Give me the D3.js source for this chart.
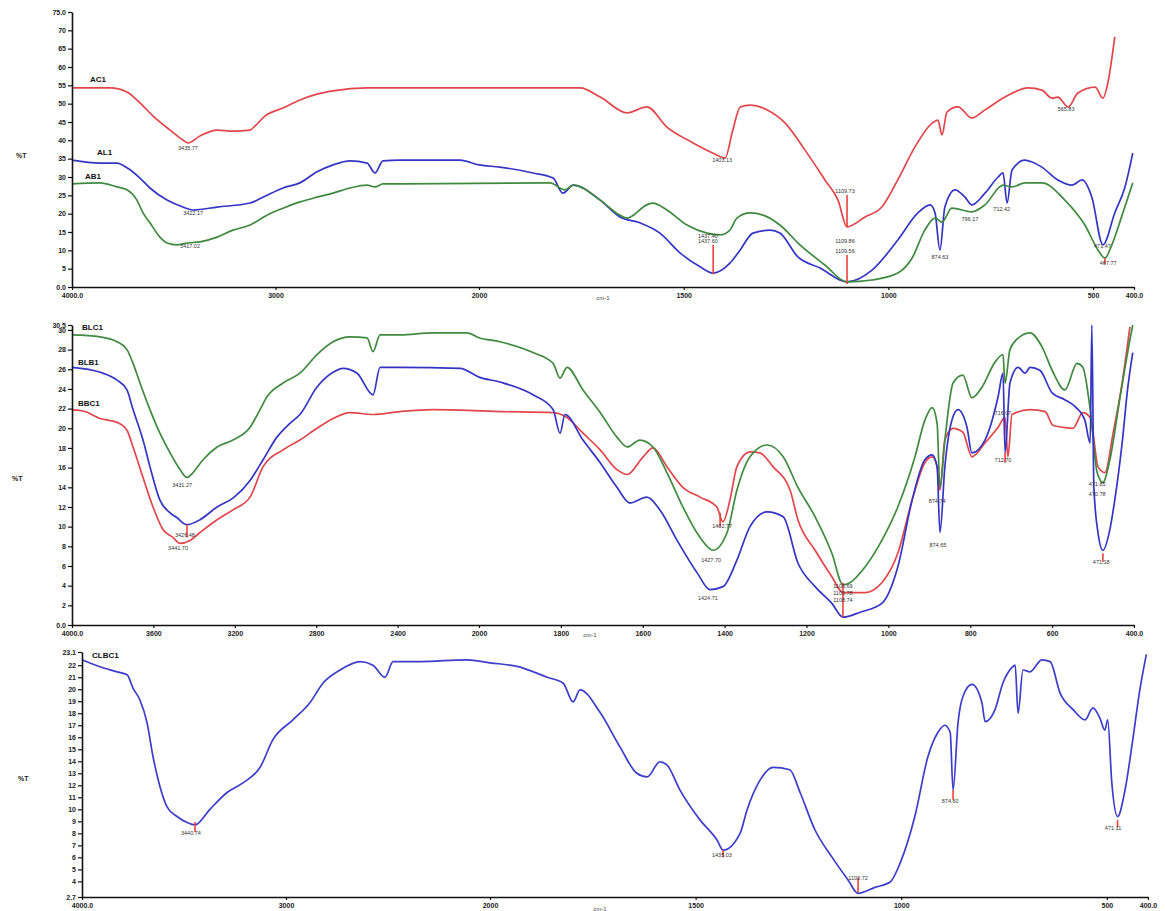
<!DOCTYPE html>
<html>
<head>
<meta charset="utf-8">
<script src="https://cdn.jsdelivr.net/npm/d3@7"></script>
<style>
  body { margin: 0; background: #fff; }
  svg { display: block; font-family: "Liberation Sans", Arial, sans-serif; }
  .tick text { fill: #222; }
</style>
</head>
<body>
<svg id="chart" width="1165" height="911"></svg>
<script>
// ---- data: [wavenumber cm-1, %T] ----
const AC1 = [[4000,54.3],[3813,54.3],[3730,53.2],[3666,50.2],[3592,46.1],[3518,42.8],[3455,40.1],[3430,39.3],[3371,41.2],[3287,42.8],[3209,42.5],[3125,42.8],[3101,43.9],[3052,46.6],[2963,48.8],[2880,51.0],[2796,52.6],[2717,53.5],[2550,54.3],[2388,54.3],[2000,54.3],[1753,54.3],[1704,51.8],[1638,47.5],[1590,49.1],[1541,43.6],[1477,39.3],[1428,36.5],[1399,35.2],[1380,42.8],[1362,49.1],[1338,49.6],[1296,48.3],[1252,44.7],[1204,37.4],[1155,29.2],[1123,23.7],[1101,16.4],[1057,19.1],[1016,21.8],[977,29.2],[935,38.2],[893,44.7],[879,45.5],[869,41.5],[857,47.7],[830,49.1],[796,46.1],[764,48.3],[715,51.8],[659,54.3],[625,53.7],[600,51.5],[586,51.8],[561,49.1],[537,52.9],[495,54.5],[476,51.5],[464,55.6],[447,68.2]];
const AL1 = [[4000,34.6],[3862,33.8],[3779,33.8],[3730,32.5],[3666,29.7],[3617,27.0],[3533,23.7],[3455,21.8],[3405,21.0],[3287,21.8],[3125,22.9],[3061,24.5],[2963,27.0],[2880,28.4],[2796,31.4],[2717,33.3],[2634,34.4],[2550,33.8],[2511,31.1],[2472,34.4],[2388,34.6],[2093,34.6],[2000,33.3],[1949,32.7],[1868,31.1],[1819,29.7],[1795,25.6],[1770,27.8],[1704,23.7],[1656,19.1],[1607,17.5],[1558,14.7],[1509,9.3],[1460,5.5],[1428,3.8],[1387,6.5],[1362,10.1],[1331,14.7],[1289,15.5],[1265,14.7],[1221,8.2],[1167,5.2],[1101,1.4],[1040,4.6],[977,12.8],[928,20.2],[898,22.4],[886,20.2],[874,10.1],[862,21.8],[837,26.5],[813,24.5],[796,22.4],[764,25.6],[732,30.0],[720,31.1],[710,22.9],[698,31.9],[666,34.6],[649,34.1],[625,32.7],[586,29.2],[551,27.8],[527,29.2],[503,24.5],[476,11.5],[447,20.2],[422,27.3],[403,36.5]];
const AB1 = [[4000,28.1],[3862,28.4],[3779,27.3],[3730,26.5],[3681,23.7],[3651,20.2],[3617,17.5],[3568,13.6],[3533,12.0],[3484,11.5],[3435,12.0],[3371,12.3],[3287,13.6],[3209,15.5],[3125,16.9],[3042,19.6],[2963,21.5],[2880,23.2],[2796,24.5],[2717,25.6],[2634,27.0],[2550,27.8],[2511,27.3],[2472,28.1],[2388,28.1],[1827,28.4],[1790,26.5],[1770,27.8],[1704,23.7],[1656,19.6],[1638,18.8],[1590,22.4],[1575,22.9],[1541,21.0],[1492,16.9],[1443,14.7],[1411,14.2],[1387,15.5],[1370,18.8],[1338,20.2],[1306,19.6],[1265,16.9],[1216,11.5],[1155,6.0],[1101,1.4],[1040,1.9],[977,3.8],[942,7.9],[911,15.5],[886,18.8],[869,17.7],[845,21.5],[796,20.5],[764,22.4],[720,27.8],[698,27.3],[666,28.4],[625,28.4],[569,23.7],[520,16.9],[488,10.1],[471,7.9],[454,11.5],[429,19.6],[403,28.4]];

const BLC1 = [[4000,29.5],[3862,29.3],[3779,28.8],[3730,28.0],[3700,26.6],[3666,24.6],[3617,21.9],[3568,19.5],[3518,17.5],[3469,15.8],[3435,15.0],[3405,15.5],[3356,16.8],[3287,18.1],[3209,18.8],[3125,20.1],[3076,21.9],[3042,23.2],[2963,24.6],[2880,25.6],[2796,27.5],[2717,28.8],[2634,29.3],[2550,29.2],[2521,27.8],[2486,29.5],[2388,29.5],[2226,29.7],[2059,29.7],[2000,29.2],[1949,28.8],[1868,27.7],[1819,26.6],[1802,25.1],[1785,26.2],[1746,23.9],[1704,21.6],[1663,19.1],[1638,18.1],[1607,18.8],[1575,18.1],[1541,15.5],[1502,12.0],[1460,8.9],[1428,7.6],[1394,9.4],[1370,13.7],[1338,17.1],[1296,18.3],[1257,17.1],[1221,14.0],[1179,11.0],[1138,7.3],[1111,4.1],[1094,4.3],[1057,5.9],[1016,8.6],[977,12.0],[935,17.1],[911,20.8],[893,22.1],[881,20.5],[874,14.0],[862,18.8],[842,24.6],[818,25.4],[796,23.1],[771,24.2],[740,26.7],[720,27.5],[715,24.6],[703,28.0],[679,29.3],[654,29.7],[625,28.3],[600,25.9],[569,23.9],[539,26.6],[525,26.2],[507,21.9],[490,15.5],[476,14.5],[459,16.8],[435,22.9],[410,29.0],[403,30.5]];
const BLB1 = [[4000,26.2],[3862,25.7],[3779,24.9],[3730,23.9],[3700,21.9],[3651,18.8],[3617,16.1],[3568,12.7],[3518,11.4],[3484,10.9],[3435,10.2],[3371,10.7],[3287,12.0],[3209,12.9],[3125,14.7],[3061,16.8],[2993,19.1],[2929,20.5],[2880,21.4],[2796,24.2],[2717,25.7],[2668,26.1],[2599,25.6],[2521,23.4],[2486,26.2],[2388,26.2],[2093,26.1],[2000,25.2],[1949,24.7],[1868,23.4],[1819,21.9],[1802,19.5],[1790,21.4],[1746,18.8],[1704,16.5],[1663,14.0],[1631,12.4],[1590,13.0],[1558,11.7],[1516,8.6],[1467,5.3],[1436,3.6],[1404,3.9],[1370,6.6],[1338,10.0],[1296,11.5],[1257,11.0],[1221,6.3],[1179,3.9],[1138,2.2],[1111,0.8],[1069,1.3],[1016,2.2],[977,5.9],[942,12.7],[911,16.8],[893,17.3],[881,16.1],[874,9.4],[862,16.1],[845,20.8],[830,21.9],[808,20.1],[796,17.5],[764,18.8],[732,23.2],[720,25.6],[715,17.5],[703,24.6],[683,26.2],[666,25.6],[654,26.2],[630,25.9],[600,23.6],[569,22.9],[544,22.2],[520,20.8],[507,18.5],[503,30.5],[498,14.0],[488,9.4],[476,7.6],[459,9.7],[447,12.7],[429,18.5],[415,24.2],[403,27.7]];
const BBC1 = [[4000,21.9],[3936,21.7],[3862,21.0],[3779,20.6],[3730,19.8],[3700,18.1],[3651,15.0],[3602,12.0],[3553,9.7],[3504,8.9],[3469,8.3],[3420,8.6],[3371,9.4],[3287,10.7],[3209,11.7],[3125,13.0],[3061,16.1],[2963,17.8],[2880,18.8],[2796,20.0],[2717,21.0],[2634,21.6],[2521,21.4],[2388,21.7],[2226,21.9],[1949,21.7],[1819,21.6],[1785,21.1],[1746,19.5],[1704,17.8],[1663,15.8],[1638,15.3],[1599,17.1],[1575,18.0],[1541,16.1],[1502,14.0],[1460,13.0],[1419,12.0],[1404,10.5],[1387,12.7],[1370,16.1],[1338,17.6],[1314,17.5],[1282,16.1],[1240,13.7],[1221,10.7],[1179,7.6],[1138,4.9],[1111,3.3],[1057,3.3],[1016,4.3],[977,7.3],[942,12.7],[911,16.5],[893,17.1],[881,16.1],[874,13.7],[862,18.8],[842,20.0],[818,19.6],[796,17.1],[764,18.5],[732,20.1],[715,21.1],[708,17.1],[698,21.4],[654,21.9],[617,21.7],[598,20.3],[573,20.1],[549,20.0],[525,21.6],[507,21.1],[500,19.5],[488,16.1],[471,15.5],[451,19.5],[429,24.6],[410,30.3]];

const CLBC1 = [[4000,22.45],[3912,21.87],[3828,21.45],[3779,21.2],[3750,20.1],[3716,19.1],[3681,17.2],[3652,14.4],[3618,11.9],[3583,10.2],[3534,9.4],[3485,8.9],[3446,8.7],[3373,10.0],[3289,11.4],[3211,12.2],[3127,13.5],[3064,15.8],[2966,17.45],[2882,18.9],[2819,20.5],[2735,21.6],[2637,22.3],[2574,22.0],[2515,21.0],[2475,22.3],[2343,22.3],[2113,22.45],[2000,22.2],[1934,21.9],[1861,21.0],[1822,20.5],[1798,18.95],[1781,19.95],[1733,18.1],[1684,15.2],[1643,13.0],[1618,12.7],[1587,13.95],[1570,13.7],[1538,11.6],[1489,9.1],[1448,7.45],[1433,6.6],[1392,8.0],[1375,9.95],[1343,12.45],[1312,13.5],[1271,13.3],[1246,11.4],[1210,8.3],[1168,6.0],[1129,4.1],[1105,3.0],[1064,3.5],[1027,3.95],[1003,5.5],[967,9.4],[935,14.4],[911,16.4],[894,17.0],[881,16.4],[874,11.6],[862,17.2],[850,19.4],[828,20.4],[804,18.9],[796,17.3],[772,18.3],[753,20.5],[731,21.8],[723,22.0],[716,18.0],[704,21.6],[687,21.45],[658,22.45],[638,22.3],[614,19.7],[582,18.3],[553,17.45],[534,18.45],[517,17.6],[505,16.6],[498,17.45],[488,12.2],[474,9.4],[457,11.4],[437,15.8],[421,19.7],[404,22.9]];

// peak labels: [wavenumber, %T, text]
const P1_PEAKS = [[3430,37.4,'3435.77'],[3405,19.6,'3422.17'],[3420,10.6,'3417.02'],[1406,34.1,'1403.13'],[1441,13.4,'1437.40'],[1441,12.0,'1437.60'],[1106,25.6,'1109.73'],[1106,12.0,'1109.86'],[1106,9.2,'1109.56'],[874,7.6,'874.63'],[801,18.0,'796.17'],[723,20.7,'712.42'],[566,47.9,'565.83'],[477,10.6,'471.47'],[463,6.0,'467.77']];
const P2_PEAKS = [[3459,14.0,'3431.27'],[3445,8.9,'3426.48'],[3479,7.6,'3441.70'],[1406,9.9,'1402.77'],[1433,6.4,'1427.70'],[1441,2.5,'1424.71'],[1111,3.8,'1106.69'],[1111,3.05,'1109.78'],[1111,2.3,'1108.74'],[881,12.4,'874.74'],[879,7.9,'874.65'],[720,16.6,'712.70'],[720,21.3,'716.07'],[490,14.1,'471.85'],[490,13.1,'470.78'],[480,6.2,'471.18']];
const P3_PEAKS = [[3466,7.9,'3440.74'],[1436,6.0,'1435.03'],[1105,4.1,'1103.72'],[881,10.5,'874.60'],[485,8.3,'471.11']];

// peak marker segments: [wavenumber, %T from, %T to]
const P1_MARKS = [[1428,11.5,3.5],[1101,25.1,16.4],[1101,8.7,0.8],[471,7.9,6.3]];
const P2_MARKS = [[3435,10.2,8.9],[1411,11.4,10.0],[1111,4.3,0.8],[715,17.5,16.5],[476,7.3,6.4]];
const P3_MARKS = [[3446,8.95,8.1],[1433,6.6,6.0],[1105,4.3,3.1],[874,11.6,10.8],[474,9.1,8.5]];

// series names: [text, wavenumber, %T]
const P1_NAMES = [['AC1',3912,55.9],['AL1',3877,36.0],['AB1',3936,29.5]];
const P2_NAMES = [['BLC1',3951,30.0],['BLB1',3971,26.4],['BBC1',3971,22.3]];
const P3_NAMES = [['CLBC1',3951,22.6]];

// ticks
const X_TICKS_A = [4000,3000,2000,1500,1000,500,400];
const X_TICKS_B = [4000,3600,3200,2800,2400,2000,1800,1600,1400,1200,1000,800,600,400];
const P1_Y_TICKS = d3.range(0, 80, 5);
const P2_Y_TICKS = d3.range(0, 32, 2).concat([30.5]);
const P3_Y_TICKS = [2.7].concat(d3.range(4, 23, 1), [23.1]);

const RED = '#e0464a', BLUE = '#3535c4', GREEN = '#3f8a3f', MARK = '#e8443c';

const svg = d3.select('#chart');
const WN = [4000, 2000, 400];

const panels = [
  {xr:[72,479,1134], yd:[0,75], yr:[287,12], yTicks:P1_Y_TICKS, xTicks:X_TICKS_A,
   yFmt: d => d === 0 ? '0.0' : d === 75 ? '75.0' : d,
   series:[[AC1,RED],[AL1,BLUE],[AB1,GREEN]],
   peaks:P1_PEAKS, marks:P1_MARKS, names:P1_NAMES, ylab:[16,158], unit:[603,300]},
  {xr:[72,479,1134], yd:[0,30.5], yr:[625,325], yTicks:P2_Y_TICKS, xTicks:X_TICKS_B,
   yFmt: d => d === 0 ? '0.0' : d,
   series:[[BBC1,RED],[BLC1,GREEN],[BLB1,BLUE]],
   peaks:P2_PEAKS, marks:P2_MARKS, names:P2_NAMES, ylab:[12,481], unit:[590,637]},
  {xr:[82,490,1148], yd:[2.7,23.1], yr:[897,652], yTicks:P3_Y_TICKS, xTicks:X_TICKS_A,
   yFmt: d => d,
   series:[[CLBC1,'#3d3dca']],
   peaks:P3_PEAKS, marks:P3_MARKS, names:P3_NAMES, ylab:[18,781], unit:[600,911]}
];

panels.forEach(p => {
  const g = svg.append('g');
  const x = d3.scaleLinear().domain(WN).range(p.xr);
  const y = d3.scaleLinear().domain(p.yd).range(p.yr);

  const line = d3.line()
      .x(d => x(d[0]))
      .y(d => y(d[1]))
      .curve(d3.curveMonotoneX);

  // spectra
  p.series.forEach(([data, color]) => {
    g.append('path')
      .datum(data)
      .attr('d', line)
      .attr('fill', 'none')
      .attr('stroke', color)
      .attr('stroke-width', 1.7)
      .attr('stroke-linejoin', 'round');
  });

  // peak markers
  g.selectAll('.mark')
    .data(p.marks)
    .join('line')
      .attr('x1', d => x(d[0])).attr('x2', d => x(d[0]))
      .attr('y1', d => y(d[1])).attr('y2', d => y(d[2]))
      .attr('stroke', MARK)
      .attr('stroke-width', 1.6);

  // peak labels
  g.selectAll('.peak')
    .data(p.peaks)
    .join('text')
      .attr('x', d => x(d[0]))
      .attr('y', d => y(d[1]))
      .attr('text-anchor', 'middle')
      .attr('font-size', 5.5)
      .attr('fill', '#333')
      .text(d => d[2]);

  // series names
  g.selectAll('.name')
    .data(p.names)
    .join('text')
      .attr('x', d => x(d[1]))
      .attr('y', d => y(d[2]))
      .attr('font-size', 8)
      .attr('font-weight', 'bold')
      .attr('fill', '#111')
      .text(d => d[0]);

  // axes
  const yAxis = g.append('g')
      .attr('transform', `translate(${p.xr[0]},0)`)
      .call(d3.axisLeft(y).tickValues(p.yTicks).tickFormat(p.yFmt)
        .tickSize(4).tickSizeOuter(0).tickPadding(2));
  const xAxis = g.append('g')
      .attr('transform', `translate(0,${p.yr[0]})`)
      .call(d3.axisBottom(x).tickValues(p.xTicks)
        .tickFormat(d => (d === 4000 || d === 400) ? d.toFixed(1) : d)
        .tickSize(3).tickSizeOuter(0).tickPadding(3));

  [yAxis, xAxis].forEach(a => {
    a.select('.domain').attr('stroke', '#111').attr('stroke-width', 1.6);
    a.selectAll('.tick line').attr('stroke', '#111').attr('stroke-width', 1.2);
    a.selectAll('.tick text').attr('font-size', 7).attr('font-weight', 'bold')
      .attr('font-family', '"Liberation Sans", Arial, sans-serif');
  });

  g.append('text')
    .attr('x', p.ylab[0]).attr('y', p.ylab[1])
    .attr('font-size', 7).attr('font-weight', 'bold').attr('fill', '#222')
    .text('%T');

  g.append('text')
    .attr('x', p.unit[0]).attr('y', p.unit[1])
    .attr('text-anchor', 'middle')
    .attr('font-size', 6).attr('fill', '#444')
    .text('cm-1');
});
</script>
</body>
</html>
